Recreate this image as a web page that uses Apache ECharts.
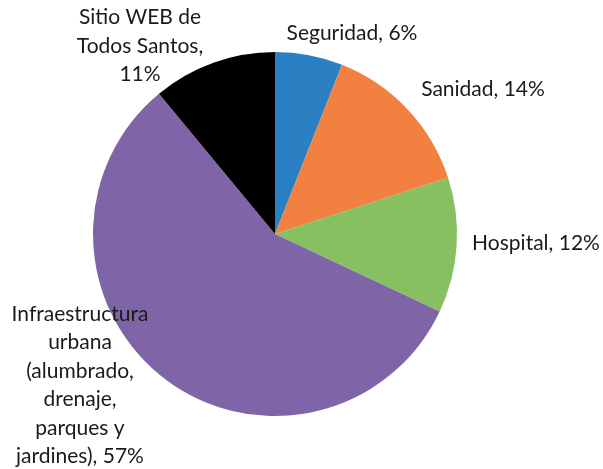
<!DOCTYPE html>
<html><head><meta charset="utf-8">
<script src="https://cdn.jsdelivr.net/npm/echarts@6/dist/echarts.min.js"></script>
<style>html,body{margin:0;padding:0;background:#fff}#c{width:603px;height:469px}</style>
</head><body><div id="c"></div>
<script>
const categories = ['Seguridad', 'Sanidad', 'Hospital', 'Infraestructura urbana (alumbrado, drenaje, parques y jardines)', 'Sitio WEB de Todos Santos'];
const labelTexts = ['Seguridad, 6%', 'Sanidad, 14%', 'Hospital, 12%', 'Infraestructura\nurbana\n(alumbrado,\ndrenaje,\nparques y\njardines), 57%', 'Sitio WEB de\nTodos Santos,\n11%'];
const values = [6, 14, 12, 57, 11];
const colors = ['#2A80C2', '#F28040', '#86C060', '#8064A8', '#000000'];
const labelPos = [[352, 33], [483, 89], [536, 243], [80, 385], [140, 46]];

const chart = echarts.init(document.getElementById('c'));
chart.setOption({
  animation: false,
  series: [{
    type: 'pie',
    center: [275, 234],
    radius: 182,
    startAngle: 90,
    clockwise: true,
    data: categories.map((n, i) => ({name: n, value: values[i], itemStyle: {color: colors[i]},
      label: {formatter: labelTexts[i]}})),
    itemStyle: {borderWidth: 0},
    label: {show: true, position: 'outside', color: '#1a1a1a', fontFamily: 'Lato', fontSize: 21, lineHeight: 28.5, align: 'center', overflow: 'none', edgeDistance: 0},
    labelLine: {show: false},
    labelLayout: function (p) {
      const pos = labelPos[p.dataIndex];
      return {x: pos[0], y: pos[1], align: 'center', verticalAlign: 'middle'};
    }
  }]
});
</script></body></html>
